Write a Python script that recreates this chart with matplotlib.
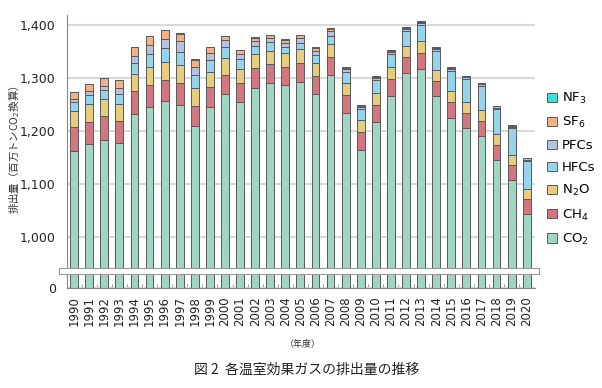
import numpy as np
import matplotlib
matplotlib.use("Agg")
import matplotlib.pyplot as plt
from matplotlib.patches import Rectangle

plt.rcParams['font.family'] = ['DejaVu Sans', 'Noto Sans CJK JP']

# 年度
years = [str(y) for y in range(1990, 2021)]

# 排出量（百万トンCO2換算）
co2 = [1163, 1175, 1184, 1177, 1232, 1245, 1256, 1250, 1209, 1246, 1269, 1254, 1282, 1291, 1286,
       1293, 1270, 1306, 1235, 1165, 1217, 1267, 1309, 1317, 1266, 1225, 1205, 1190, 1145, 1107, 1044]
ch4 = [44, 43, 44, 42, 43, 41, 41, 40, 39, 38, 37, 37, 37, 35, 35,
       35, 34, 34, 33, 33, 33, 31, 30, 31, 29, 29, 29, 29, 29, 28, 28]
n2o = [31, 33, 32, 32, 32, 34, 34, 35, 33, 27, 31, 26, 26, 26, 26,
       26, 25, 24, 23, 23, 22, 22, 21, 21, 21, 21, 20, 20, 20, 20, 19]
hfcs = [16, 17, 18, 19, 21, 25, 25, 25, 24, 24, 22, 19, 16, 16, 12,
        13, 15, 16, 20, 20, 24, 25, 29, 32, 36, 39, 44, 46, 47, 50, 52]
pfcs = [6.5, 7, 7.5, 10.5, 14, 17.5, 17.5, 19, 16, 13, 12, 10, 9, 8, 8,
        9, 7.5, 8, 5.5, 4, 3.5, 3.4, 3.3, 3.3, 3, 3.3, 3.4, 3.5, 3.4, 3.4, 3.2]
sf6 = [12.9, 14, 15.5, 16.5, 16, 16.5, 17.5, 15, 14, 10, 7.5, 7, 6.5, 5, 5,
       4.5, 4.4, 4, 3, 2.5, 2.4, 2.2, 2.2, 2.1, 2, 2.1, 2.2, 2.1, 2, 2, 2]
nf3 = [0.03, 0.05, 0.05, 0.06, 0.1, 0.2, 0.2, 0.3, 0.4, 0.4, 0.3, 0.3, 0.5, 0.6, 1.2,
       1.5, 3.0, 3.0, 2.0, 1.7, 1.5, 1.5, 1.6, 1.6, 1.3, 0.6, 0.6, 0.4, 0.3, 0.3, 0.3]

series = [co2, ch4, n2o, hfcs, pfcs, sf6, nf3]
labels = ['CO$_2$', 'CH$_4$', 'N$_2$O', 'HFCs', 'PFCs', 'SF$_6$', 'NF$_3$']
colors = ['#9fd6c1', '#d2777f', '#e6cd7e', '#94d4ec', '#b6c2e2', '#f2b084', '#40e0d0']

# 0〜1000 を圧縮した軸（省略線つき）
k = 0.0962
base = 1000 - 1000 * k


def fwd(v):
    v = np.asarray(v, dtype=float)
    return np.where(v >= 1000, v, base + v * k)


def inv(d):
    d = np.asarray(d, dtype=float)
    return np.where(d >= 1000, d, (d - base) / k)


fig = plt.figure(figsize=(6.02, 3.88), dpi=100)
ax = fig.add_axes([67 / 602, 1 - 288 / 388, 468 / 602, 273 / 388])
ax.set_yscale('function', functions=(fwd, inv))

x = np.arange(len(years))
bottom = np.zeros(len(years))
bars = []
for vals, lab, col in zip(series, labels, colors):
    b = ax.bar(x, vals, 0.52, bottom=bottom, color=col, edgecolor='#5a5a5a',
               linewidth=0.7, label=lab, zorder=2)
    bars.append(b)
    bottom = bottom + np.array(vals)

ax.set_xlim(-0.47, 30.55)
ax.set_ylim(0, 1419)
ax.set_yticks([0, 1000, 1100, 1200, 1300, 1400])
ax.set_yticklabels(['0', '1,000', '1,100', '1,200', '1,300', '1,400'])
ax.tick_params(axis='y', length=0, pad=8, labelsize=9, colors='#222222')
ax.set_xticks(x)
ax.set_xticklabels(years, rotation=90, fontsize=8.5, color='#222222')
ax.tick_params(axis='x', length=0, pad=6)
ax.set_xticks(x[:-1] + 0.5, minor=True)
ax.tick_params(axis='x', which='minor', direction='in', length=3, color='#888888')

ax.set_axisbelow(True)
ax.yaxis.grid(True, color='#d9d9d9', linewidth=1.5)
for s in ['top', 'right']:
    ax.spines[s].set_visible(False)
ax.spines['left'].set_color('#888888')
ax.spines['bottom'].set_color('#888888')

# 省略記号
ax.add_patch(Rectangle((-0.017, 0.051), 1.026, 0.022, transform=ax.transAxes,
                       facecolor='white', edgecolor='#999999', linewidth=0.8,
                       clip_on=False, zorder=5))

fig.text(14 / 602, 1 - 150 / 388, '排出量（百万トンCO$_2$換算）', rotation=90,
         ha='center', va='center', family=['Noto Sans CJK JP', 'DejaVu Sans'],
         fontsize=7.5, color='#333333')

fig.legend(bars[::-1], labels[::-1], loc='upper left',
           bbox_to_anchor=(542 / 602, 1 - 86 / 388), frameon=False,
           fontsize=9.5, handlelength=0.7, handleheight=0.7, handletextpad=0.4,
           labelspacing=0.68, borderaxespad=0)

fig.text(303 / 602, 1 - 344 / 388, '（年度）', ha='center', va='center', fontsize=6.5,
         family=['Noto Sans CJK JP'], color='#333333')
fig.text(307 / 602, 1 - 370 / 388, '図 2  各温室効果ガスの排出量の推移', ha='center', va='center',
         fontsize=10, family=['Noto Sans CJK JP', 'DejaVu Sans'], color='#222222')

fig.savefig('out.png', dpi=100)
